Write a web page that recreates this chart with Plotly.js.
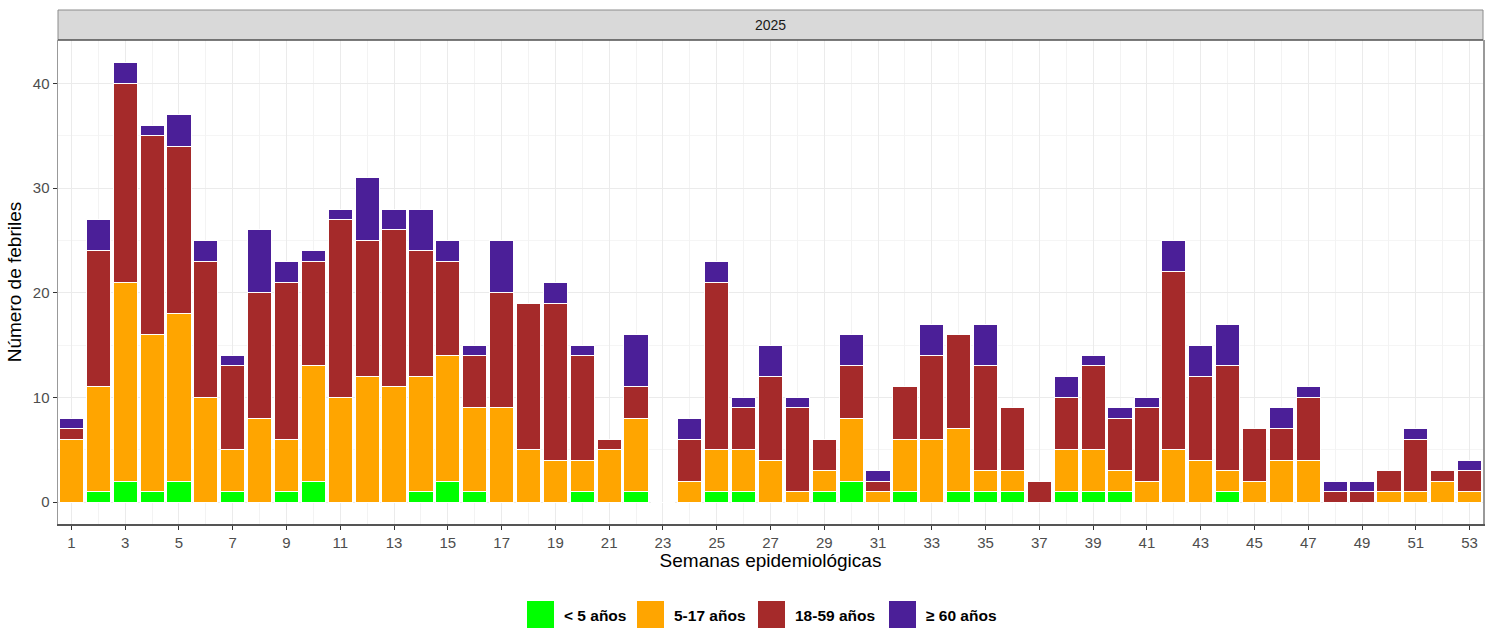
<!DOCTYPE html>
<html><head><meta charset="utf-8">
<script src="https://cdn.plot.ly/plotly-3.0.1.min.js"></script>
<style>html,body{margin:0;padding:0;background:#fff}#chart{width:1496px;height:630px}</style>
</head><body><div id="chart"></div>
<script>
const weeks = [1,2,3,4,5,6,7,8,9,10,11,12,13,14,15,16,17,18,19,20,21,22,23,24,25,26,27,28,29,30,31,32,33,34,35,36,37,38,39,40,41,42,43,44,45,46,47,48,49,50,51,52,53];
const menores5 = [0,1,2,1,2,0,1,0,1,2,0,0,0,1,2,1,0,0,0,1,0,1,0,0,1,1,0,0,1,2,0,1,0,1,1,1,0,1,1,1,0,0,0,1,0,0,0,0,0,0,0,0,0];
const de5a17 = [6,10,19,15,16,10,4,8,5,11,10,12,11,11,12,8,9,5,4,3,5,7,0,2,4,4,4,1,2,6,1,5,6,6,2,2,0,4,4,2,2,5,4,2,2,4,4,0,0,1,1,2,1];
const de18a59 = [1,13,19,19,16,13,8,12,15,10,17,13,15,12,9,5,11,14,15,10,1,3,0,4,16,4,8,8,3,5,1,5,8,9,10,6,2,5,8,5,7,17,8,10,5,3,6,1,1,2,5,1,2];
const mayores60 = [1,3,2,1,3,2,1,6,2,1,1,6,2,4,2,1,5,0,2,1,0,5,0,2,2,1,3,1,0,3,1,0,3,0,4,0,0,2,1,1,1,3,3,4,0,2,1,1,1,0,1,0,1];
const groupNames = ["< 5 años","5-17 años","18-59 años","≥ 60 años"];
const groupColors = ["#00FF00","#FFA500","#A52A2A","#4B1F98"];
const xTicks = [1,3,5,7,9,11,13,15,17,19,21,23,25,27,29,31,33,35,37,39,41,43,45,47,49,51,53];
const yTicks = [0,10,20,30,40];
const stripLabel = "2025";

const series = [menores5, de5a17, de18a59, mayores60];
const traces = series.map((vals, i) => ({
  type: 'bar', x: weeks, y: vals, name: groupNames[i],
  marker: {color: groupColors[i], line: {color: '#FFFFFF', width: 1}},
  width: 0.9, showlegend: false, hoverinfo: 'x+y+name'
}));

const W = 1496, H = 630, mL = 58, mR = 13, mT = 40, mB = 106;
const plotH = H - mT - mB;
const shapes = [], annotations = [];
// facet strip
shapes.push({type:'rect', xref:'paper', yref:'paper', x0:0, x1:1, y0:1, y1:1 + 30/plotH,
  fillcolor:'#D9D9D9', line:{color:'#8C8C8C', width:1}});
shapes.push({type:'line', xref:'paper', yref:'paper', x0:0, x1:1, y0:1, y1:1, line:{color:'#333333', width:1.2}});
annotations.push({xref:'paper', yref:'paper', x:0.5, y:1 + 15/plotH, text:stripLabel, showarrow:false,
  font:{family:'Liberation Sans, Arial, sans-serif', size:14, color:'#1A1A1A'}, yanchor:'middle'});
// custom legend
const plotW = W - mL - mR;
const legX = [527, 637, 758, 889];
legX.forEach((px, i) => {
  const x0 = (px - mL) / plotW, x1 = (px + 27 - mL) / plotW;
  const y0 = -(601 - (H - mB)) / plotH, y1 = -(628 - (H - mB)) / plotH;
  shapes.push({type:'rect', xref:'paper', yref:'paper', x0:x0, x1:x1, y0:y1, y1:y0,
    fillcolor: groupColors[i], line:{width:0}});
  annotations.push({xref:'paper', yref:'paper', x:(px + 35 - mL)/plotW, y:-(615 - (H - mB))/plotH,
    xanchor:'left', yanchor:'middle', showarrow:false, text:'<b>' + groupNames[i] + '</b>',
    font:{family:'Liberation Sans, Arial, sans-serif', size:15.5, color:'#000000'}});
});

const layout = {
  width: W, height: H, margin: {l:mL, r:mR, t:mT, b:mB},
  paper_bgcolor:'#FFFFFF', plot_bgcolor:'#FFFFFF',
  barmode:'stack', bargap:0.1,
  font:{family:'Liberation Sans, Arial, sans-serif'},
  xaxis: {range:[0.5,53.5], tickvals:xTicks, ticktext:xTicks.map(String), ticks:'outside', ticklen:4,
    tickcolor:'#333333', tickfont:{size:15, color:'#4D4D4D'},
    showgrid:true, gridcolor:'#EBEBEB', gridwidth:1,
    minor:{tickvals:weeks, showgrid:true, gridcolor:'#F0F0F0', gridwidth:0.8},
    showline:true, linecolor:'#555555', linewidth:1.5, mirror:false, zeroline:false,
    title:{text:'Semanas epidemiológicas', font:{size:19, color:'#000000'}, standoff:2}},
  yaxis: {range:[-2.1,44.15], tickvals:yTicks, ticks:'outside', ticklen:4, tickcolor:'#333333',
    tickfont:{size:15, color:'#4D4D4D'}, showgrid:true, gridcolor:'#EBEBEB', gridwidth:1,
    minor:{dtick:5, tick0:0, showgrid:true, gridcolor:'#F2F2F2', gridwidth:0.8},
    showline:true, linecolor:'#999999', linewidth:1.5, mirror:true, zeroline:false,
    title:{text:'Número de febriles', font:{size:19, color:'#000000'}, standoff:6}},
  shapes: shapes, annotations: annotations
};
Plotly.newPlot('chart', traces, layout, {displayModeBar:false, staticPlot:true});
</script></body></html>
